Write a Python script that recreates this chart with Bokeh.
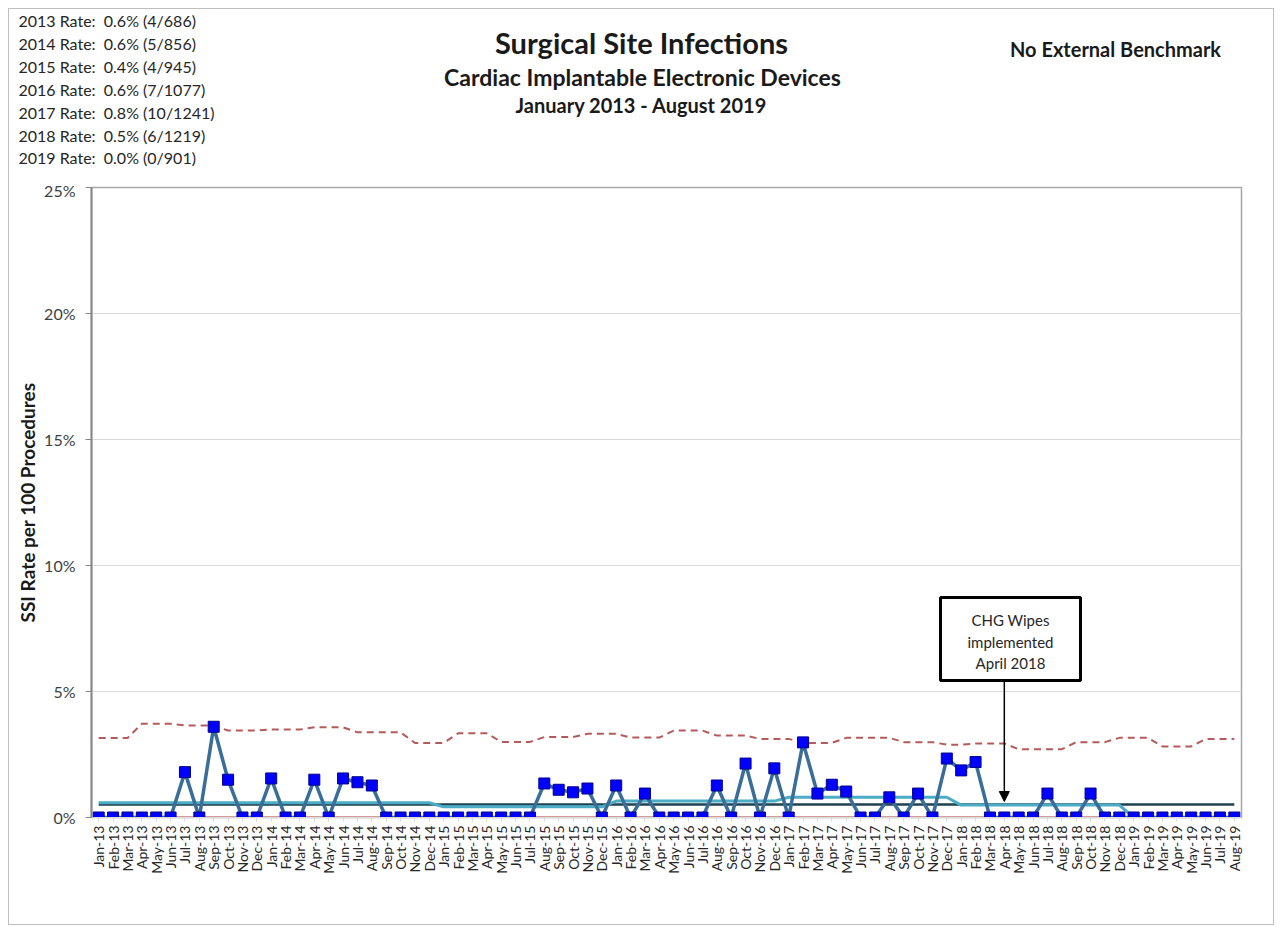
import math
from bokeh.plotting import figure
from bokeh.layouts import column, row
from bokeh.models import Range1d, FixedTicker, Label, BoxAnnotation, Arrow, NormalHead, ColumnDataSource
from bokeh.core.properties import value
from bokeh.embed import file_html
from bokeh.resources import INLINE

# ---------------- data ----------------
years = ["2013", "2014", "2015", "2016", "2017", "2018", "2019"]
infections = [4, 5, 4, 7, 10, 6, 0]
procedures = [686, 856, 945, 1077, 1241, 1219, 901]
month_names = ["Jan", "Feb", "Mar", "Apr", "May", "Jun", "Jul", "Aug", "Sep", "Oct", "Nov", "Dec"]
months_per_year = [12, 12, 12, 12, 12, 12, 8]

ssi_rate = [
    0, 0, 0, 0, 0, 0, 1.8, 0, 3.6, 1.5, 0, 0,            # 2013
    1.55, 0, 0, 1.5, 0, 1.55, 1.4, 1.27, 0, 0, 0, 0,     # 2014
    0, 0, 0, 0, 0, 0, 0, 1.35, 1.1, 1.0, 1.15, 0,        # 2015
    1.27, 0, 0.95, 0, 0, 0, 0, 1.27, 0, 2.14, 0, 1.95,   # 2016
    0, 2.98, 0.95, 1.3, 1.03, 0, 0, 0.8, 0, 0.95, 0, 2.34,  # 2017
    1.87, 2.2, 0, 0, 0, 0, 0.95, 0, 0, 0.95, 0, 0,      # 2018
    0, 0, 0, 0, 0, 0, 0, 0,                              # 2019
]

ucl = [
    3.15, 3.15, 3.15, 3.72, 3.72, 3.72, 3.65, 3.65, 3.65, 3.45, 3.45, 3.45,
    3.49, 3.49, 3.49, 3.58, 3.58, 3.58, 3.38, 3.38, 3.38, 3.38, 2.96, 2.96,
    2.96, 3.34, 3.34, 3.34, 3.00, 3.00, 3.00, 3.19, 3.19, 3.19, 3.32, 3.32,
    3.32, 3.17, 3.17, 3.17, 3.45, 3.45, 3.45, 3.25, 3.25, 3.25, 3.12, 3.12,
    3.12, 2.96, 2.96, 2.96, 3.16, 3.16, 3.16, 3.16, 2.99, 2.99, 2.99, 2.89,
    2.89, 2.94, 2.94, 2.94, 2.71, 2.71, 2.71, 2.71, 2.99, 2.99, 2.99, 3.16,
    3.16, 3.16, 2.82, 2.82, 2.82, 3.12, 3.12, 3.12,
]
lcl_value = 0.0
center_value = 0.52

y_ticks = [0, 5, 10, 15, 20, 25]
y_tick_labels = ["0%", "5%", "10%", "15%", "20%", "25%"]

# derived series
month_labels = []
year_rate_monthly = []
for yr, n_m, inf, proc in zip(years, months_per_year, infections, procedures):
    for m in range(n_m):
        month_labels.append(f"{month_names[m]}-{yr[2:]}")
        year_rate_monthly.append(100.0 * inf / proc)
xs = list(range(len(month_labels)))

src = ColumnDataSource(dict(
    x=xs, rate=ssi_rate, ucl=ucl, yr=year_rate_monthly,
    lcl=[lcl_value] * len(xs), cl=[center_value] * len(xs),
))

FONT = "Lato"
OFF = 9            # page offset of the layout content (margin + border)
W = 1264
TOP_H = 171
MAIN_H = 744

# ---------------- header figure (pixel coordinates) ----------------
top = figure(width=W, height=TOP_H, output_backend="svg", toolbar_location=None,
             x_range=Range1d(0, W), y_range=Range1d(TOP_H, 0),
             x_axis_type=None, y_axis_type=None,
             min_border_left=0, min_border_right=0, min_border_top=0, min_border_bottom=0)
top.outline_line_color = None
top.grid.visible = False
top.background_fill_color = "white"
top.border_fill_color = "white"


def hx(px):
    return px - OFF


def hy(py):
    return py - OFF


rate_lines = [f"{yr} Rate:\u00a0 {100.0 * inf / proc:.1f}% ({inf}/{proc})"
              for yr, inf, proc in zip(years, infections, procedures)]
top.text(x=[hx(18)] * len(rate_lines), y=[hy(v) for v in [20, 43, 66, 89, 112, 135, 157]],
         text=rate_lines, text_font=value(FONT), text_font_size="16px", text_color="#262626",
         text_baseline="middle", text_align="left")
top.text(x=[hx(641)], y=[hy(42)], text=["Surgical Site Infections"], text_font=value(FONT),
         text_font_size="29px", text_font_style="bold", text_color="#1a1a1a",
         text_align="center", text_baseline="middle")
top.text(x=[hx(642)], y=[hy(76)], text=["Cardiac Implantable Electronic Devices"], text_font=value(FONT),
         text_font_size="23px", text_font_style="bold", text_color="#1a1a1a",
         text_align="center", text_baseline="middle")
top.text(x=[hx(641)], y=[hy(104)], text=["January 2013 - August 2019"], text_font=value(FONT),
         text_font_size="20px", text_font_style="bold", text_color="#1a1a1a",
         text_align="center", text_baseline="middle")
top.text(x=[hx(1115)], y=[hy(48)], text=["No External Benchmark"], text_font=value(FONT),
         text_font_size="20px", text_font_style="bold", text_color="#1a1a1a",
         text_align="center", text_baseline="middle")

# ---------------- main chart ----------------
FL, FR = 91 - OFF, 1241 - OFF
FT, FB = 187 - OFF - TOP_H, 817 - OFF - TOP_H
x0, x1 = -0.5, len(xs) - 0.5
p = figure(width=W, height=MAIN_H, output_backend="svg", toolbar_location=None,
           x_range=Range1d(x0, x1), y_range=Range1d(0, 25),
           min_border_left=FL, min_border_right=W - FR,
           min_border_top=FT, min_border_bottom=MAIN_H - FB)
p.background_fill_color = "white"
p.border_fill_color = "white"
p.outline_line_color = "#A6A6A6"
p.outline_line_width = 1.5

sx = (FR - FL) / (x1 - x0)
sy = (FB - FT) / 25.0


def dx(px):
    return (px - OFF - FL) / sx + x0


def dy(py):
    return (FB - (py - OFF - TOP_H)) / sy


p.xgrid.visible = False
p.ygrid.ticker = FixedTicker(ticks=y_ticks)
p.ygrid.grid_line_color = "#D9D9D9"
p.ygrid.grid_line_width = 1

p.yaxis.ticker = FixedTicker(ticks=y_ticks)
p.yaxis.major_label_overrides = {t: l for t, l in zip(y_ticks, y_tick_labels)}
p.yaxis.major_label_text_font = FONT
p.yaxis.major_label_text_font_size = "16px"
p.yaxis.major_label_text_color = "#404040"
p.yaxis.axis_line_color = "#868686"
p.yaxis.axis_line_width = 2
p.yaxis.major_tick_line_color = "#868686"
p.yaxis.major_tick_out = 6
p.yaxis.major_tick_in = 0
p.yaxis.minor_tick_line_color = None
p.yaxis.major_label_standoff = 10
p.yaxis.axis_label = "SSI Rate per 100 Procedures"
p.yaxis.axis_label_text_font = FONT
p.yaxis.axis_label_text_font_size = "19px"
p.yaxis.axis_label_text_font_style = "bold"
p.yaxis.axis_label_text_color = "#1a1a1a"
p.yaxis.axis_label_standoff = 2

p.xaxis.ticker = FixedTicker(ticks=xs)
p.xaxis.major_label_overrides = {i: l for i, l in zip(xs, month_labels)}
p.xaxis.major_label_orientation = math.pi / 2
p.xaxis.major_label_text_font = FONT
p.xaxis.major_label_text_font_size = "14px"
p.xaxis.major_label_text_color = "#262626"
p.xaxis.axis_line_color = "#D9D9D9"
p.xaxis.major_tick_line_color = "#D9D9D9"
p.xaxis.major_tick_out = 4
p.xaxis.major_tick_in = 0
p.xaxis.minor_tick_line_color = None
p.xaxis.major_label_standoff = 4

p.line("x", "ucl", source=src, line_color="#B55A5A", line_width=2, line_dash="7 5")
p.line("x", "lcl", source=src, line_color="#C0504D", line_width=2)
p.line("x", "cl", source=src, line_color="#1F4250", line_width=2.5)
p.line("x", "yr", source=src, line_color="#4BACC6", line_width=3)
p.line("x", "rate", source=src, line_color="#3A6E98", line_width=3.5)
p.scatter("x", "rate", source=src, marker="square", size=11,
          fill_color="#0000FF", line_color="#00008B", line_width=1)

# annotation box + arrow
p.add_layout(BoxAnnotation(left=dx(940), right=dx(1080), top=dy(597), bottom=dy(680),
                           fill_color="white", fill_alpha=1.0, line_color="black",
                           line_alpha=1.0, line_width=3))
for txt, py in zip(["CHG Wipes", "implemented", "April 2018"], [619, 641, 662]):
    p.add_layout(Label(x=dx(1010), y=dy(py), text=txt, text_font=FONT, text_font_size="15px",
                       text_color="#262626", text_align="center", text_baseline="middle"))
apr18 = month_labels.index("Apr-18")
p.add_layout(Arrow(x_start=apr18, y_start=dy(681), x_end=apr18, y_end=dy(801),
                   line_color="black", line_width=1.5,
                   end=NormalHead(size=10, fill_color="black", line_color="black")))

layout = column(row(top), p, spacing=0,
                styles={"border": "1px solid #BFBFBF", "margin-left": "8px", "margin-top": "8px"})
open("out.html", "w").write(file_html(layout, INLINE))
